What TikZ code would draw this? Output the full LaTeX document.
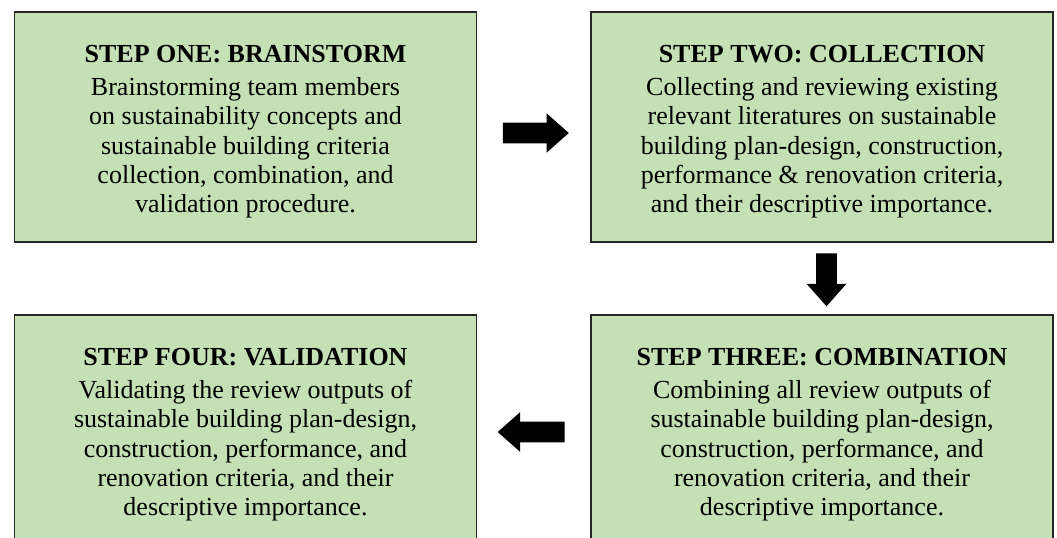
\documentclass[tikz,border=0pt]{standalone}
\usepackage{fontspec}
\setmainfont{Liberation Serif}
\usetikzlibrary{shapes.arrows}
\definecolor{stepgreen}{HTML}{C5E0B4}

\begin{document}
\begin{tikzpicture}[x=0.75pt,y=0.75pt,
stepbox/.style = {draw=black!85,
	fill=stepgreen,
	line width=0.8pt,
	minimum width=346.5pt,
minimum height=172.5pt},
steptext/.style = {anchor=north,
	align=center,
	inner sep=0pt,
font=\fontsize{19.5}{22}\selectfont},
blockarrow/.style = {single arrow,
	fill=black,
	inner sep=7.5pt,
	single arrow head extend=7.1pt,
single arrow tip angle=83}]

\clip (0,0) rectangle (1057,-538);

\node (one) at (245.5,-127) [stepbox] {};
\node (two) at (822,-127) [stepbox] {};
\node (three) at (822,-430) [stepbox] {};
\node (four) at (245.5,-430) [stepbox] {};

\node (onetext) at ([yshift=-25pt]one.north) [steptext] {\textbf{STEP ONE: BRAINSTORM}\\[3pt]
	Brainstorming team members\\ on sustainability concepts and\\
	sustainable building criteria\\ collection, combination, and\\ validation procedure.};
\node (twotext) at ([yshift=-25pt]two.north) [steptext] {\textbf{STEP TWO: COLLECTION}\\[3pt]
	Collecting and reviewing existing\\ relevant literatures on sustainable\\
	building plan-design, construction,\\ performance \& renovation criteria,\\
	and their descriptive importance.};
\node (threetext) at ([yshift=-25pt]three.north) [steptext] {\textbf{STEP THREE: COMBINATION}\\[3pt]
	Combining all review outputs of\\ sustainable building plan-design,\\
	construction, performance, and\\ renovation criteria, and their\\ descriptive importance.};
\node (fourtext) at ([yshift=-25pt]four.north) [steptext] {\textbf{STEP FOUR: VALIDATION}\\[3pt]
	Validating the review outputs of\\ sustainable building plan-design,\\
	construction, performance, and\\ renovation criteria, and their\\ descriptive importance.};

\node (onetwo) at (530,-133) [blockarrow, minimum height=49.5pt] {};
\node (twothree) at (826.5,-274) [blockarrow, shape border rotate=270, minimum height=39.75pt] {};
\node (threefour) at (537,-432) [blockarrow, shape border rotate=180, minimum height=50.25pt] {};
\end{tikzpicture}
\end{document}
